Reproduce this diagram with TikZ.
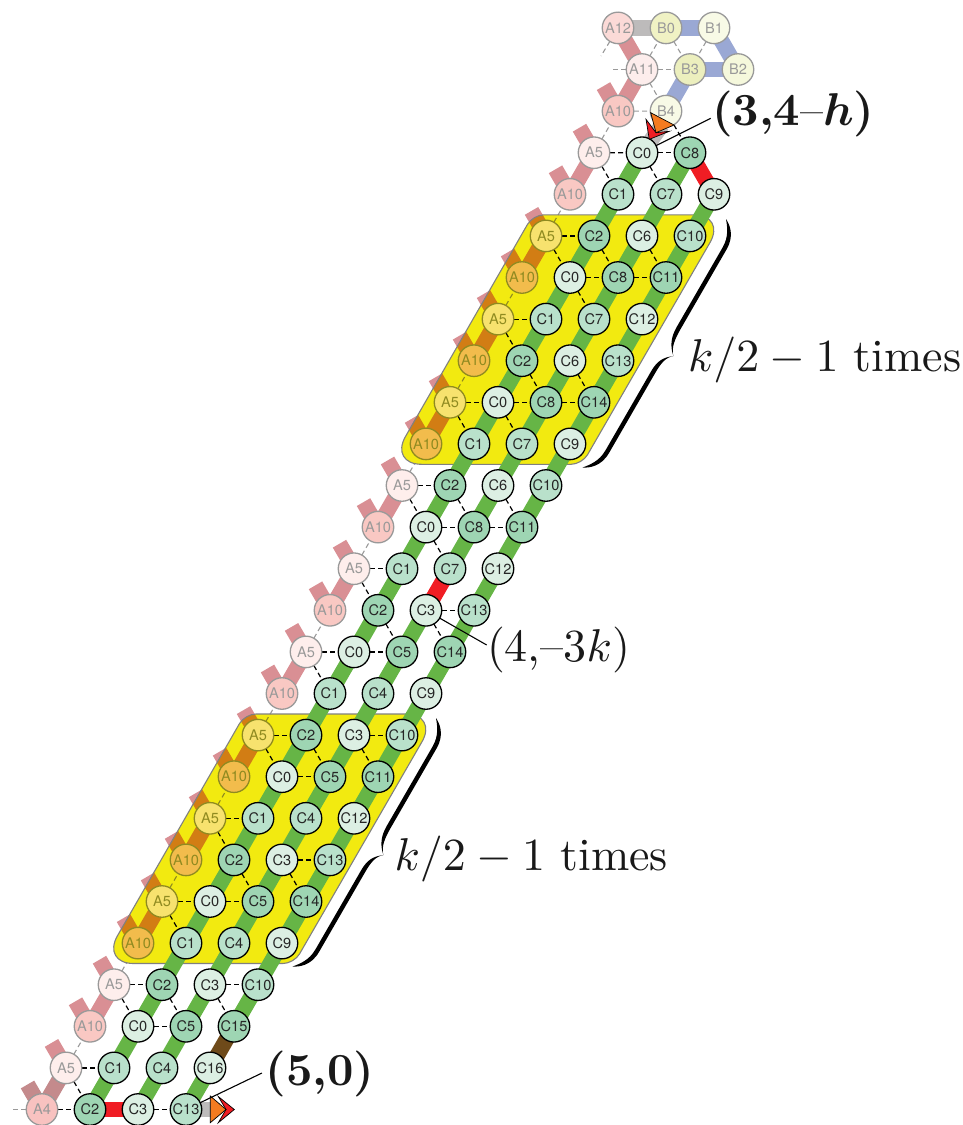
\documentclass[tikz,border=0pt]{standalone}
\usepackage{fontspec}
\newfontfamily\helv{TeX Gyre Heros}
\definecolor{colA4}{HTML}{F8C2C0}
\definecolor{colA5}{HTML}{FEEEEC}
\definecolor{colA10}{HTML}{F9C8C3}
\definecolor{colA11}{HTML}{FDEDEC}
\definecolor{colA12}{HTML}{FBDAD7}
\definecolor{ycolA5}{HTML}{F7E26E}
\definecolor{ycolA10}{HTML}{F2BC4C}
\definecolor{colC0}{HTML}{DCEFE3}
\definecolor{colC1}{HTML}{B9E1CB}
\definecolor{colC2}{HTML}{9ED5B3}
\colorlet{colC3}{colC0}\colorlet{colC6}{colC0}\colorlet{colC9}{colC0}\colorlet{colC12}{colC0}\colorlet{colC16}{colC0}
\colorlet{colC4}{colC1}\colorlet{colC7}{colC1}\colorlet{colC10}{colC1}\colorlet{colC13}{colC1}
\colorlet{colC5}{colC2}\colorlet{colC8}{colC2}\colorlet{colC11}{colC2}\colorlet{colC14}{colC2}\colorlet{colC15}{colC2}
\definecolor{pinkband}{HTML}{D98F94}
\definecolor{darkpink}{HTML}{C48A8C}
\definecolor{orangeband}{HTML}{D27D14}
\definecolor{greenband}{HTML}{66B546}
\definecolor{redband}{HTML}{F01D24}
\definecolor{brownband}{HTML}{6E4A1A}
\definecolor{greyband}{HTML}{BDBBBB}
\definecolor{blueband}{HTML}{9AA8D4}
\definecolor{yellowreg}{HTML}{F2EA10}
\definecolor{olive}{HTML}{8F8A20}
\definecolor{arroworange}{HTML}{F47B20}
\definecolor{colB0}{HTML}{F0F2C4}
\definecolor{colB1}{HTML}{F8FAE6}
\definecolor{colB2}{HTML}{F5F8DC}
\definecolor{colB3}{HTML}{ECEFBE}
\definecolor{colB4}{HTML}{F8FAE6}
\pgfdeclarelayer{lone}\pgfdeclarelayer{ltwo}\pgfdeclarelayer{lthree}
\pgfsetlayers{lone,ltwo,lthree,main}
\tikzset{
  vert/.style={circle,minimum size=31.5pt,inner sep=0pt,outer sep=0pt,line width=1.3pt,font=\helv\fontsize{14.6}{16}\selectfont},
  cnode/.style={vert,draw=black,text=black!85},
  anode/.style={vert,draw=black!40,text=black!40},
  ynode/.style={vert,draw=olive,text=olive},
  band/.style={line width=15.5pt,line cap=butt},
  dashk/.style={line width=1.2pt,dash pattern=on 5pt off 3.4pt,black},
  dashg/.style={line width=1.1pt,dash pattern=on 5pt off 3.4pt,black!40},
  dasho/.style={line width=1.1pt,dash pattern=on 5pt off 3.4pt,olive},
  leader/.style={line width=1.1pt,black},
  big/.style={scale=4.6,inner sep=0pt,outer sep=0pt,anchor=base west,text=black!90},
  bracehalf/.style={fill=black,draw=none},
  bracefr/.style={x={(-0.5pt,-0.866pt)},y={(0.866pt,-0.5pt)}}
}
\newcommand{\yelpath}{(340,714) [rounded corners=11pt] -- (245,714) [rounded corners=32pt] -- (101.5,963.5) [rounded corners=11pt] -- (294,963.5) [rounded corners=32pt] -- (438,714) -- cycle}
\newcommand{\bracefill}{
  \fill[bracehalf] (0,0) .. controls (3,6) and (10,15.7) .. (26,15.7) -- (118,15.7) .. controls (130,15.7) and (139,17) .. (145,23) .. controls (138,15) and (130,11.3) .. (118,11.3) -- (26,11.3) .. controls (14,11.3) and (6,5) .. (0,0) -- cycle;
  \fill[bracehalf] (287,0) .. controls (284,6) and (277,15.7) .. (261,15.7) -- (169,15.7) .. controls (157,15.7) and (150,17) .. (145,23) .. controls (151,15) and (157,11.3) .. (169,11.3) -- (261,11.3) .. controls (273,11.3) and (281,5) .. (287,0) -- cycle;
}
\begin{document}
\begin{tikzpicture}[x=1pt,y=-1pt]
\useasboundingbox (0,0) rectangle (963,1125);
% vertices
\foreach \i/\t in {0/A4,1/A5,2/A10,3/A5,10/A10,11/A5,12/A10,13/A5,14/A10,15/A5,22/A10,23/A5,24/A10}
  \node[anode,fill=col\t] (a\i) at ({42+24*\i},{1109.5-41.6*\i}) {\t};
\foreach \i/\t in {4/A10,5/A5,6/A10,7/A5,8/A10,9/A5,16/A10,17/A5,18/A10,19/A5,20/A10,21/A5}
  \node[ynode,fill=ycol\t] (a\i) at ({42+24*\i},{1109.5-41.6*\i}) {\t};
\foreach \i/\p/\q/\s in {0/C2/C3/C13,1/C1/C4/C16,2/C0/C5/C15,3/C2/C3/C10,4/C1/C4/C9,5/C0/C5/C14,6/C2/C3/C13,7/C1/C4/C12,8/C0/C5/C11,9/C2/C3/C10,10/C1/C4/C9,11/C0/C5/C14,12/C2/C3/C13,13/C1/C7/C12,14/C0/C8/C11,15/C2/C6/C10,16/C1/C7/C9,17/C0/C8/C14,18/C2/C6/C13,19/C1/C7/C12,20/C0/C8/C11,21/C2/C6/C10,22/C1/C7/C9}{
  \node[cnode,fill=col\p] (p\i) at ({90+24*\i},{1109.5-41.6*\i}) {\p};
  \node[cnode,fill=col\q] (q\i) at ({138+24*\i},{1109.5-41.6*\i}) {\q};
  \node[cnode,fill=col\s] (s\i) at ({186+24*\i},{1109.5-41.6*\i}) {\s};
}
\node[cnode,fill=colC0] (p23) at (642,152.7) {C0};
\node[cnode,fill=colC8] (q23) at (690,152.7) {C8};
\node[anode,fill=colA11] (a25) at (642,69.5) {A11};
\node[anode,fill=colA12] (a26) at (618,27.9) {A12};
\node[anode,fill=colB4] (b4) at (666,111.1) {B4};
\node[anode,fill=colB3] (b3) at (690,69.5) {B3};
\node[anode,fill=colB2] (b2) at (738,69.5) {B2};
\node[anode,fill=colB0] (b0) at (666,27.9) {B0};
\node[anode,fill=colB1] (b1) at (714,27.9) {B1};
% free ends
\foreach \i in {0,...,24}
  \path (a\i) ++(-14.5,-25) coordinate (st\i);
\coordinate (lf) at (10,1109.5);
\coordinate (lfb) at (610,69.5);
\coordinate (lfc) at (601,56);
\coordinate (t1) at (710.7,118.3);
\coordinate (t2) at (262,1073);
\coordinate (t3) at (486.7,645);
\coordinate (gt1) at (662,125);
\coordinate (gt2) at (218,1109.5);
\begin{pgfonlayer}{lone}
  \foreach \i in {1,...,24} \draw[band,pinkband] (a\i.center) -- (st\i);
  \foreach \i [evaluate=\i as \j using int(\i+1)] in {2,4,...,22} \draw[band,pinkband] (a\i.center) -- (a\j.center);
  \draw[band,darkpink] (a0.center) -- (st0);
  \draw[band,darkpink] (a0.center) -- (a1.center);
  \draw[band,pinkband] (a24.center) -- (a25.center);
  \draw[band,pinkband] (a25.center) -- (a26.center);
  \foreach \i [evaluate=\i as \j using int(\i+1)] in {1,3,...,23} \draw[dashg] (a\i) -- (a\j);
  \draw[dashg] (a0) -- (lf);
  \draw[dashg] (a25) -- (lfb);
  \draw[dashg] (a26) -- (lfc);
  \draw[dashg] (a24) -- (b4);
  \draw[dashg] (a25) -- (b3);
  \draw[dashg] (a25) -- (b4);
  \draw[dashg] (a25) -- (b0);
  \draw[dashg] (b0) -- (b3);
  \draw[dashg] (b1) -- (b3);
\end{pgfonlayer}
\begin{pgfonlayer}{ltwo}
  \foreach \sx/\sy/\lo/\hi in {0/0/4/9,288/-499.2/16/21}{
    \begin{scope}[shift={(\sx,\sy)}]
      \fill[yellowreg] \yelpath;
      \begin{scope}
      \clip \yelpath;
      \foreach \i in {\lo,...,\hi} \draw[band,orangeband] (a\i.center) -- (st\i);
      \foreach \i [evaluate=\i as \j using int(\i+1)] in {\lo,...,\hi}{
        \pgfmathparse{int(mod(\i,2))}
        \ifnum\pgfmathresult=0
          \draw[band,orangeband] (a\i.center) -- (a\j.center);
        \else
          \draw[dasho] (a\i) -- (a\j);
        \fi
      }
      \end{scope}
      \draw[black!50,line width=1.1pt] \yelpath;
    \end{scope}
  }
\end{pgfonlayer}
\begin{pgfonlayer}{lthree}
  \foreach \i [evaluate=\i as \j using int(\i+1)] in {0,...,22} \draw[band,greenband] (p\i.center) -- (p\j.center);
  \foreach \i [evaluate=\i as \j using int(\i+1)] in {0,...,11,13,14,...,21} \draw[band,greenband] (q\i.center) -- (q\j.center);
  \draw[band,greenband] (q22.center) -- (q23.center);
  \foreach \i [evaluate=\i as \j using int(\i+1)] in {0,2,3,...,21} \draw[band,greenband] (s\i.center) -- (s\j.center);
  \draw[band,redband] (q12.center) -- (q13.center);
  \draw[band,redband] (s22.center) -- (q23.center);
  \draw[band,redband] (p0.center) -- (q0.center);
  \draw[band,brownband] (s1.center) -- (s2.center);
  \draw[band,greyband] (a26.center) -- (b0.center);
  \draw[band,blueband] (b0.center) -- (b1.center);
  \draw[band,blueband] (b1.center) -- (b2.center);
  \draw[band,blueband] (b2.center) -- (b3.center);
  \draw[band,blueband] (b3.center) -- (b4.center);
  \draw[band,greyband] (p23.center) -- (gt1);
  \draw[band,greyband] (s0.center) -- (gt2);
  % horizontal dashed
  \foreach \i in {0,1,3,5,7,9,11,13,15,17,19,21,23} \draw[dashk] (a\i) -- (p\i);
  \foreach \i in {2,5,8,11,14,17,20,23} \draw[dashk] (p\i) -- (q\i);
  \foreach \i in {0,3,6,9,12,14,17,20} \draw[dashk] (q\i) -- (s\i);
  % down-right dashed
  \foreach \i/\j in {1/0,3/2,5/4,7/6,9/8,11/10,13/12,15/14,17/16,19/18,21/20,23/22} \draw[dashk] (a\i) -- (p\j);
  \foreach \i/\j in {3/2,6/5,9/8,12/11,14/13,15/14,17/16,18/17,20/19,21/20,23/22} \draw[dashk] (p\i) -- (q\j);
  \foreach \i/\j in {3/2,6/5,9/8,12/11,15/14,18/17,21/20} \draw[dashk] (q\i) -- (s\j);
  \draw[dashk] (b4) -- (q23);
\end{pgfonlayer}
% arrow heads
\path[draw=black,line width=.7pt,fill=redband] (218.3,1096.5) -- (234.3,1109.5) -- (218.3,1122.7) -- (226,1109.5) -- cycle;
\path[draw=black,line width=.7pt,fill=arroworange] (210.3,1096) -- (226,1109.5) -- (210.3,1122.7) -- cycle;
\path[draw=black,line width=.7pt,fill=redband] (646,119.3) -- (649.3,139.3) -- (669.3,131.3) -- (656,132.7) -- cycle;
\path[draw=black,line width=.7pt,fill=arroworange] (650.7,112.7) -- (674,125) -- (656,132.7) -- cycle;
% leaders
\draw[leader] (p23) -- (t1);
\draw[leader] (s0) -- (t2);
\draw[leader] (q12) -- (t3);
% labels
\node[big] (l1) at (712,125) {{\bfseries\boldmath(3,4\textnormal{--}$h$)}};
\node[big] (l2) at (265.5,1085) {\bfseries(5,0)};
\node[big] (l3) at (487,661.7) {(4,--3$k$)};
\node[big] (l4) at (688,371.7) {$k/2-1$ times};
\node[big] (l5) at (394.5,870) {$k/2-1$ times};
% braces
\coordinate (b1s) at (726,219);
\coordinate (b2s) at (436,718);
\begin{scope}[shift={(b1s)},bracefr]\bracefill\end{scope}
\begin{scope}[shift={(b2s)},bracefr]\bracefill\end{scope}
\end{tikzpicture}
\end{document}
